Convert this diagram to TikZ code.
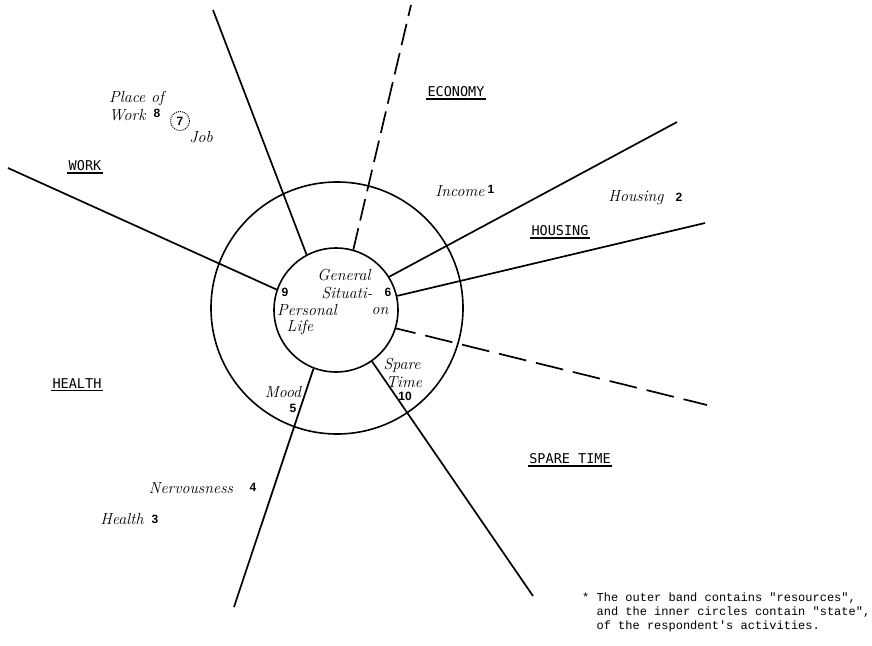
\documentclass[tikz,border=0pt]{standalone}
\usepackage{fontspec}
\newfontfamily\monof{Liberation Mono}
\newfontfamily\capf{DejaVu Sans Mono}
\newfontfamily\numfam{Liberation Sans}
\begin{document}
\begin{tikzpicture}[x=1pt,y=-1pt,
  ring/.style={circle,draw,line width=1.6pt,inner sep=0pt},
  ray/.style={line width=1.7pt},
  dray/.style={line width=1.7pt,dash pattern=on 22pt off 8pt},
  lab/.style={font=\fontsize{16}{18}\selectfont\itshape,inner sep=0pt},
  num/.style={font=\fontsize{12}{14}\selectfont\numfam\bfseries,inner sep=0pt},
  cat/.style={font=\fontsize{13.5}{15}\selectfont\capf,inner sep=1.5pt},
  uline/.style={line width=1.4pt},
  note/.style={font=\fontsize{12}{14}\selectfont\monof,align=left,inner sep=0pt}]
\useasboundingbox (0,0) rectangle (872,645);

% circles
\node[ring,minimum size=252pt] (outer) at (337,308) {};
\node[ring,minimum size=124pt] (inner) at (336,310) {};

% free ends of rays
\coordinate (eTL) at (213,10);
\coordinate (eTD) at (411,5);
\coordinate (eInc) at (677,122);
\coordinate (eHou) at (705,223);
\coordinate (eRD) at (707,405);
\coordinate (eSp) at (533,596);
\coordinate (eBL) at (234,607);
\coordinate (eW) at (8,168);

\draw[ray] (inner.118.5) -- (eTL);
\draw[dray] (inner.74.9) -- (eTD);
\draw[ray] (inner.32.7) -- (eInc);
\draw[ray] (inner.13.1) -- (eHou);
\draw[dray,dash pattern=on 28pt off 10pt,dash phase=-30pt] (inner.-17) -- (eRD);
\draw[ray] (inner.-55.8) -- (eSp);
\draw[ray] (inner.-111.6) -- (eBL);
\draw[ray] (inner.161) -- (eW);

% category labels
\node[cat] (economy) at (456,92) {ECONOMY};
\draw[uline] (economy.south west) -- (economy.south east);
\node[cat] (work) at (85,166) {WORK};
\draw[uline] (work.south west) -- (work.south east);
\node[cat] (housing) at (560,231) {HOUSING};
\draw[uline] (housing.south west) -- (housing.south east);
\node[cat] (health) at (77,384) {HEALTH};
\draw[uline] (health.south west) -- (health.south east);
\node[cat] (spare) at (570,459) {SPARE TIME};
\draw[uline] (spare.south west) -- (spare.south east);

% item labels
\node[lab,anchor=west] (place) at (109,98) {Place of};
\node[lab,anchor=west] (workl) at (109,115) {Work};
\node[num] (n8) at (157,113) {8};
\node[circle,draw,densely dotted,line width=1pt,minimum size=19pt,inner sep=0pt,font=\fontsize{12}{14}\selectfont\numfam\bfseries] (n7) at (180,121) {7};
\node[lab] (job) at (201,137) {Job};

\node[lab] (income) at (460,191) {Income};
\node[num] (n1) at (491,189) {1};
\node[lab] (housingl) at (636,198) {Housing};
\node[num] (n2) at (679,197) {2};

\node[lab] (general) at (344,275) {General};
\node[lab] (situ) at (347,293) {Situati-};
\node[num] (n6) at (388,292) {6};
\node[num] (n9) at (285,292) {9};
\node[lab,anchor=west] (personal) at (277,310) {Personal};
\node[lab] (on) at (380,311) {on};
\node[lab] (life) at (300,327) {Life};

\node[lab] (sparel) at (402,365) {Spare};
\node[lab] (time) at (404,382) {Time};
\node[num] (n10) at (405,396) {10};
\node[lab] (mood) at (283,392) {Mood};
\node[num] (n5) at (293,408) {5};

\node[lab] (nerv) at (191,488) {Nervousness};
\node[num] (n4) at (253,487) {4};
\node[lab] (healthl) at (122,519) {Health};
\node[num] (n3) at (155,519) {3};

% footnote
\node[note,anchor=north west] (foot) at (582,593) {*\ The outer band contains "resources",\\
\ \ and the inner circles contain "state",\\
\ \ of the respondent's activities.};
\end{tikzpicture}
\end{document}
